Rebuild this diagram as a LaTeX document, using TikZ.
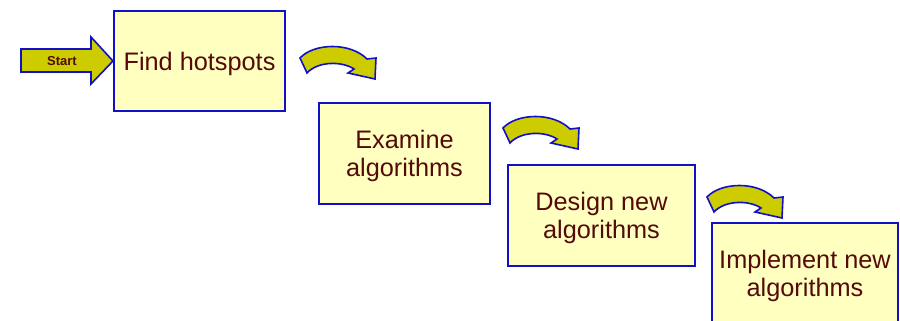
\documentclass[tikz,border=0pt]{standalone}
\usepackage{fontspec}
\setmainfont{Liberation Sans}
\definecolor{boxfill}{RGB}{255,255,192}
\definecolor{edgeblue}{RGB}{16,16,200}
\definecolor{txtred}{RGB}{85,10,10}
\definecolor{olive}{RGB}{204,204,0}
\tikzset{
  stepbox/.style={draw=edgeblue, line width=2pt, fill=boxfill, text=txtred,
    align=center, inner sep=0pt, text depth=0pt, font=\fontsize{25.3}{28}\selectfont},
  arrowshape/.style={draw=edgeblue, line width=1.6pt, fill=olive, line join=miter},
  curvy/.pic={
    \path[arrowshape] (0,0) .. controls (14,-15) and (50,-16) .. (67,1)
      -- (76,0) -- (75,21) -- (48,15) -- (54,11)
      .. controls (42,3) and (18,3) .. (7,15) -- cycle;
  }
}
\begin{document}
\begin{tikzpicture}[x=1pt,y=-1pt]
\useasboundingbox (0,0) rectangle (900,321);
\node[stepbox, minimum width=171pt, minimum height=100pt] (b1) at (199.5,61) {Find hotspots};
\node[stepbox, minimum width=171pt, minimum height=101pt] (b2) at (404.5,153.5) {Examine\\algorithms};
\node[stepbox, minimum width=187pt, minimum height=101pt] (b3) at (601.5,215.5) {Design new\\algorithms};
\node[stepbox, minimum width=186pt, minimum height=101pt] (b4) at (805,273.5) {Implement new\\algorithms};
% start arrow
\coordinate (tip) at (b1.west);
\path[arrowshape] (21,49) -- (91,49) -- (91,37) -- (tip) -- (91,84) -- (91,72) -- (21,72) -- cycle;
\node[text=txtred, font=\fontsize{13}{15}\selectfont\bfseries, inner sep=0pt] (start) at (62,61) {Start};
% curved arrows
\pic (c1) at (300,58) {curvy};
\pic (c2) at (503,128) {curvy};
\pic (c3) at (707,197) {curvy};
\end{tikzpicture}
\end{document}
